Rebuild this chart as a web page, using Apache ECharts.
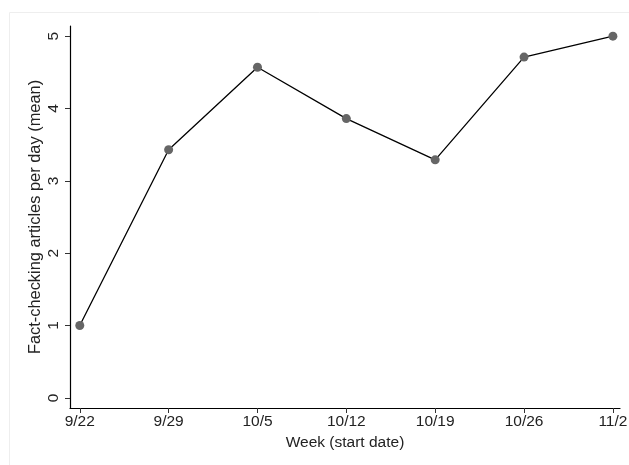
<!DOCTYPE html>
<html>
<head>
<meta charset="utf-8">
<script src="https://cdn.jsdelivr.net/npm/echarts@6/dist/echarts.min.js"></script>
<style>
  html, body { margin: 0; padding: 0; background: #fff; }
  #main { width: 629px; height: 465px; }
</style>
</head>
<body>
<div id="main"></div>
<script>
// week start dates and mean fact-checking articles per day
var weeks = ['9/22', '9/29', '10/5', '10/12', '10/19', '10/26', '11/2'];
var meanArticles = [1.0, 3.43, 4.57, 3.86, 3.29, 4.71, 5.0];
var yTicks = [0, 1, 2, 3, 4, 5];

var chart = echarts.init(document.getElementById('main'));

//x is a value axis on the week index so the ends can have a little padding
var points = meanArticles.map(function (v, i) { return [i, v]; });
var xTicks = weeks.map(function (w, i) { return i; });

var font = 'Liberation Sans, Arial, sans-serif';

chart.setOption({
  animation: false,
  graphic: [{
    type: 'rect',
    left: 7, top: 10,
    shape: { width: 640, height: 470 },
    style: { fill: 'none', stroke: '#eeeeee', lineWidth: 1 }
  }],
  grid: { left: 70, right: 9, top: 26, bottom: 57, outerBoundsMode: 'none', containLabel: false },
  xAxis: {
    type: 'value',
    min: -0.11,
    max: 6.08,
    name: 'Week (start date)',
    nameLocation: 'middle',
    nameGap: 24,
    nameTextStyle: { fontFamily: font, fontSize: 15.5, color: '#222' },
    axisLine: { show: true, onZero: false, lineStyle: { color: '#000', width: 1.2 } },
    axisTick: { show: true, length: 5, lineStyle: { color: '#333', width: 1 }, customValues: xTicks },
    axisLabel: {
      fontFamily: font, fontSize: 15.5, color: '#222', margin: 6,
      customValues: xTicks,
      formatter: function (v) { return weeks[Math.round(v)]; }
    },
    splitLine: { show: false }
  },
  yAxis: {
    type: 'value',
    min: -0.14,
    max: 5.14,
    name: 'Fact-checking articles per day (mean)',
    nameLocation: 'middle',
    nameGap: 27,
    nameMoveOverlap: false,
    nameRotate: 90,
    nameTextStyle: { fontFamily: font, fontSize: 16.4, color: '#222' },
    axisLine: { show: true, onZero: false, lineStyle: { color: '#000', width: 1.2 } },
    axisTick: { show: true, length: 5, lineStyle: { color: '#333', width: 1 }, customValues: yTicks },
    axisLabel: {
      fontFamily: font, fontSize: 15.5, color: '#222', margin: 8, rotate: 90,
      customValues: yTicks,
      formatter: function (v) { return String(Math.round(v)); }
    },
    splitLine: { show: false }
  },
  series: [{
    type: 'line',
    data: points,
    symbol: 'circle',
    symbolSize: 9,
    itemStyle: { color: '#666666' },
    lineStyle: { color: '#000', width: 1.3 }
  }]
});
</script>
</body>
</html>
